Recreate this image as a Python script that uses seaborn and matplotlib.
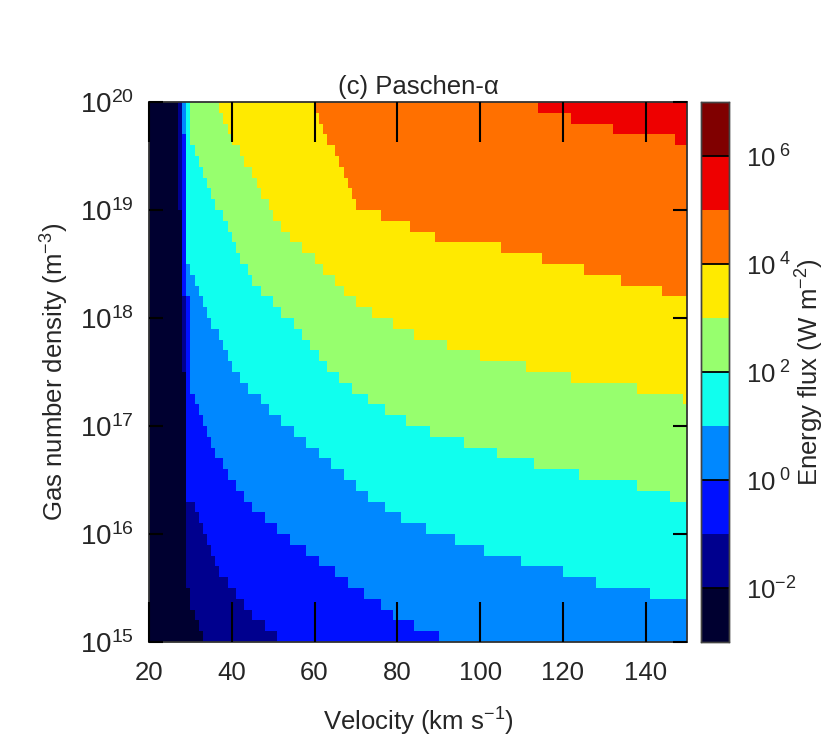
import numpy as np
import pandas as pd
import matplotlib
matplotlib.use("Agg")
import matplotlib.pyplot as plt
from matplotlib.colors import ListedColormap
import seaborn as sns

# Grid: 1 km/s velocity columns, 0.1 dex density rows (row 0 = 1e15..1e15.1)
v_left = np.arange(20, 150)
logn_low = np.round(np.arange(15.0, 20.0, 0.1), 1)

# Velocity (km/s) at which each flux decade boundary is crossed, per density row
# (row 0 at bottom ... row 49 at top); 150 = not reached inside the plot
b_1e_2 = [33, 32, 31, 30, 30] + [29] * 8 + [29] * 12 + [28] * 15 + [27] * 10
b_1e_1 = ([51, 48, 45, 43, 41, 39, 37, 36, 35, 34, 33, 32, 31]
          + [29] * 12 + [29] * 7 + [28] * 8 + [28] * 10)
b_1e0 = ([90, 84, 79, 76, 72, 68, 65, 61, 58, 54, 51, 48, 45, 43, 41, 39, 38, 36,
          35, 34, 33, 32, 31, 30, 30] + [30] * 7 + [29] * 15 + [28] * 3)
b_1e1 = ([150] * 4
         + [141, 128, 120, 110, 101, 94, 87, 81, 77, 73, 70, 67, 64, 61, 58, 55,
            52, 49, 47, 44, 42, 40, 39, 38, 37, 35, 34, 33, 32, 31, 30]
         + [29] * 15)
b_1e2 = ([150] * 13
         + [146, 138, 124, 113, 104, 96, 88, 82, 77, 73, 69, 66, 63, 61, 59, 57,
            55, 52, 50, 47, 45, 44, 42, 41, 40, 39, 38, 36, 35, 34, 33, 32, 31,
            30, 30, 30, 30])
b_1e3 = ([150] * 22
         + [149, 138, 122, 111, 100, 92, 84, 79, 74, 70, 67, 65, 62, 60, 57, 54,
            52, 50, 49, 47, 46, 45, 43, 42, 40, 39, 38, 37])
b_1e4 = ([150] * 32
         + [144, 134, 125, 115, 105, 89, 83, 76, 70, 69, 68, 67, 66, 65, 63, 62,
            61, 60])
b_1e5 = [150] * 46 + [147, 132, 122, 114]

boundaries = [b_1e_2, b_1e_1, b_1e0, b_1e1, b_1e2, b_1e3, b_1e4, b_1e5]

# Colour per flux decade, 1e-3 .. 1e7
band_colors = ["#000030", "#00008E", "#0010FF", "#0088FF", "#10FFEE",
               "#97FF6E", "#FFEA00", "#FF7000", "#EE0000", "#800000"]

x_ticks = [20, 40, 60, 80, 100, 120, 140]
y_ticks = [15, 16, 17, 18, 19, 20]
cbar_ticks = [-2, 0, 2, 4, 6]

# count boundaries passed -> decade index, store log10 flux at band centre
level = np.zeros((len(logn_low), len(v_left)), dtype=int)
for b in boundaries:
    level += (v_left[None, :] >= np.array(b)[:, None]).astype(int)
log_flux = level - 3 + 0.5

df = pd.DataFrame(log_flux[::-1], index=logn_low[::-1], columns=v_left)

sns.set_style("white")
plt.rcParams["font.family"] = ["Liberation Sans", "DejaVu Sans"]
plt.rcParams["mathtext.fontset"] = "custom"
plt.rcParams["mathtext.rm"] = "Liberation Sans"
plt.rcParams["mathtext.it"] = "Liberation Sans:italic"
plt.rcParams["mathtext.bf"] = "Liberation Sans:bold"

FS = 18.5

fig = plt.figure(figsize=(8.3, 7.56), dpi=100)
ax = fig.add_axes([149 / 830, 114 / 756, 538 / 830, 540 / 756])
cax = fig.add_axes([701 / 830, 114 / 756, 28 / 830, 540 / 756])

sns.heatmap(df, ax=ax, cbar_ax=cax, cmap=ListedColormap(band_colors),
            vmin=-3, vmax=7, linewidths=0, xticklabels=False, yticklabels=False,
            cbar_kws={"ticks": cbar_ticks})
ax.set_axisbelow(False)

# axis ticks in heatmap cell coordinates
ax.set_xticks([t - v_left[0] for t in x_ticks])
ax.set_xticklabels([str(t) for t in x_ticks], rotation=0)
ax.set_yticks([(20 - t) * 10 for t in y_ticks])
ax.set_yticklabels([rf"$10^{{{t}}}$" for t in y_ticks], rotation=0)
ax.tick_params(axis="x", direction="in", length=29, width=1.5, color="black",
               top=True, bottom=True, labelsize=FS, pad=14)
ax.tick_params(axis="y", direction="in", length=10, width=1.5, color="black",
               left=True, right=True, labelsize=20, pad=11)
for s in ax.spines.values():
    s.set_visible(True)
    s.set_color("#333333")
    s.set_linewidth(1.3)

ax.set_xlabel(r"Velocity (km s$^{-1}$)", fontsize=FS, labelpad=15)
ax.set_ylabel(r"Gas number density (m$^{-3}$)", fontsize=FS, labelpad=6)
ax.set_title("(c) Paschen-α", fontsize=FS, pad=6)

# colourbar styling
cax.set_yticklabels([rf"$10^{{\ {t}}}$" if t >= 0 else rf"$10^{{{t}}}$"
                     for t in cbar_ticks])
cax.tick_params(length=0, labelsize=FS, pad=12)
for t in cbar_ticks:
    cax.axhline(t, color="black", lw=1.3)
for s in cax.spines.values():
    s.set_visible(True)
    s.set_color("#444444")
    s.set_linewidth(1.0)
cax.set_ylabel(r"Energy flux (W m$^{-2}$)", fontsize=FS, labelpad=-2)

fig.savefig("out.png", dpi=100)
